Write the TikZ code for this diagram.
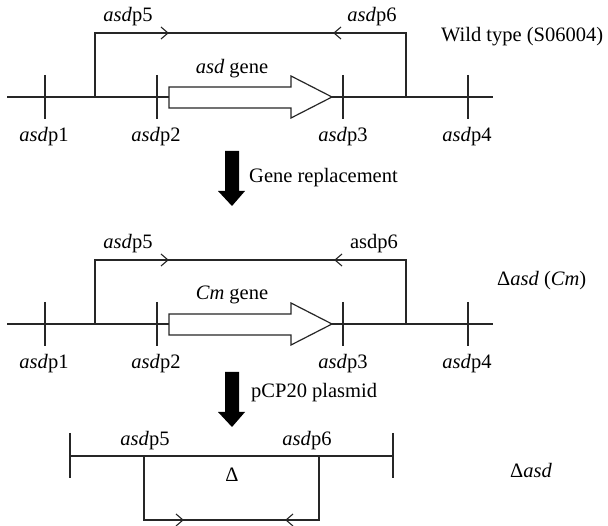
\documentclass[tikz,border=0pt]{standalone}
\usepackage{fontspec}
\setmainfont{Liberation Serif}
\begin{document}
\begin{tikzpicture}[x=1pt,y=-1pt,
  seg/.style={draw=black!85,line width=1.2pt},
  chev/.style={draw=black!85,line width=1.1pt},
  lbl/.style={font=\fontsize{20.5}{24}\selectfont,inner sep=0pt,text=black},
  genebox/.style={draw=black!85,line width=1.2pt,fill=white},
  bigarrow/.style={fill=black,draw=none}]
\useasboundingbox (0,0) rectangle (608,526);

% ---------- Section 1: wild type ----------
\coordinate (aL) at (7,97);  \coordinate (aR) at (493,97);
\draw[seg] (aL) -- (aR);
\foreach \x/\n in {45/1,157/2,343/3,468/4}{
  \coordinate (at\n) at (\x,75); \coordinate (ab\n) at (\x,119);
  \draw[seg] (at\n) -- (ab\n);
}
\coordinate (ap5) at (95,97); \coordinate (ap6) at (406,97);
\coordinate (ac5) at (95,33); \coordinate (ac6) at (406,33);
\draw[seg] (ap5) -- (ac5) -- (ac6) -- (ap6);
\draw[chev] (161,27) -- (168,33) -- (161,39);
\draw[chev] (341,27) -- (334,33) -- (341,39);
\draw[genebox] (169,87) -- (291,87) -- (291,76) -- (332,97) -- (291,118) -- (291,108) -- (169,108) -- cycle;
\node[lbl] (a1) at (44,137) {\textit{asd}p1};
\node[lbl] (a2) at (156,137) {\textit{asd}p2};
\node[lbl] (a3) at (343,137) {\textit{asd}p3};
\node[lbl] (a4) at (467,137) {\textit{asd}p4};
\node[lbl] (a5) at (128,17) {\textit{asd}p5};
\node[lbl] (a6) at (372,17) {\textit{asd}p6};
\node[lbl] (agene) at (232,69) {\textit{asd} gene};
\node[lbl,anchor=west] (wt) at (441,37) {Wild type (S06004)};

% ---------- Big arrow 1 ----------
\draw[bigarrow] (225,151) -- (239,151) -- (239,191) -- (245,191) -- (232,206) -- (218,191) -- (225,191) -- cycle;
\node[lbl,anchor=west] (gr) at (249,178) {Gene replacement};

% ---------- Section 2: Cm ----------
\coordinate (bL) at (7,324);  \coordinate (bR) at (493,324);
\draw[seg] (bL) -- (bR);
\foreach \x/\n in {45/1,157/2,343/3,468/4}{
  \coordinate (bt\n) at (\x,302); \coordinate (bb\n) at (\x,346);
  \draw[seg] (bt\n) -- (bb\n);
}
\coordinate (bp5) at (95,324); \coordinate (bp6) at (406,324);
\coordinate (bc5) at (95,260); \coordinate (bc6) at (406,260);
\draw[seg] (bp5) -- (bc5) -- (bc6) -- (bp6);
\draw[chev] (161,254) -- (168,260) -- (161,266);
\draw[chev] (342,254) -- (335,260) -- (342,266);
\draw[genebox] (169,314) -- (291,314) -- (291,303) -- (332,324) -- (291,345) -- (291,335) -- (169,335) -- cycle;
\node[lbl] (b1) at (44,364) {\textit{asd}p1};
\node[lbl] (b2) at (156,364) {\textit{asd}p2};
\node[lbl] (b3) at (343,364) {\textit{asd}p3};
\node[lbl] (b4) at (467,364) {\textit{asd}p4};
\node[lbl] (b5) at (128,244) {\textit{asd}p5};
\node[lbl] (b6) at (374,244) {asdp6};
\node[lbl] (bgene) at (232,295) {\textit{Cm} gene};
\node[lbl,anchor=west] (cm) at (497,281) {Δ\textit{asd} (\textit{Cm})};

% ---------- Big arrow 2 ----------
\draw[bigarrow] (225,372) -- (239,372) -- (239,412) -- (245,412) -- (232,427) -- (218,412) -- (225,412) -- cycle;
\node[lbl,anchor=west] (pcp) at (251,393) {pCP20 plasmid};

% ---------- Section 3: deletion ----------
\coordinate (cL) at (70,456); \coordinate (cR) at (393,456);
\draw[seg] (cL) -- (cR);
\draw[seg] (70,433) -- (70,478);
\draw[seg] (393,433) -- (393,478);
\coordinate (cp5) at (144,456); \coordinate (cp6) at (319,456);
\coordinate (cd5) at (144,520); \coordinate (cd6) at (319,520);
\draw[seg] (cp5) -- (cd5) -- (cd6) -- (cp6);
\draw[chev] (176,514) -- (183,520) -- (176,526);
\draw[chev] (293,514) -- (286,520) -- (293,526);
\node[lbl] (c5) at (145,441) {\textit{asd}p5};
\node[lbl] (c6) at (307,441) {\textit{asd}p6};
\node[lbl] (cdel) at (232,475) {Δ};
\node[lbl,anchor=west] (dasd) at (510,470) {Δ\textit{asd}};
\end{tikzpicture}
\end{document}
